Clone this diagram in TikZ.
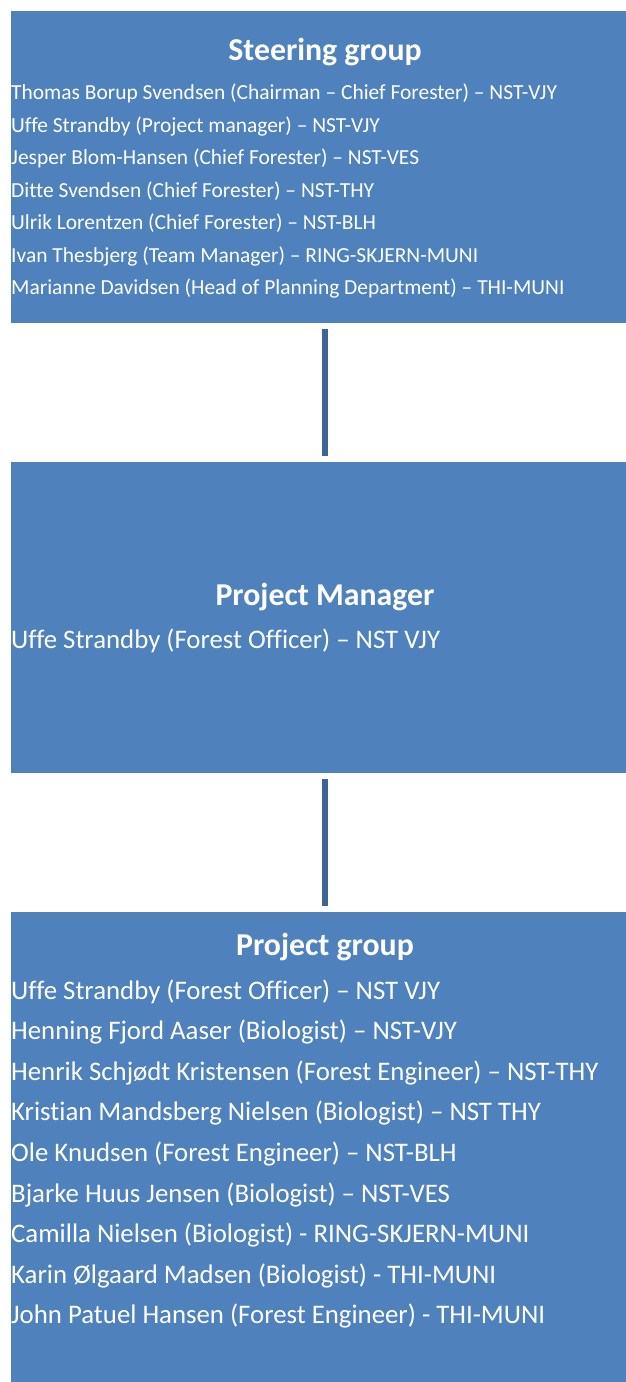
\documentclass[tikz,border=0pt]{standalone}
\usepackage{fontspec}
\setmainfont{Carlito}[Ligatures=NoCommon]
\definecolor{boxblue}{HTML}{4F81BD}
\definecolor{linkblue}{HTML}{3C6497}
\begin{document}
\begin{tikzpicture}[x=1pt,y=-1pt,
  panel/.style={fill=boxblue, draw=none, inner sep=0, outer sep=0, anchor=north west, minimum width=628pt},
  heading/.style={text=white, font=\bfseries\fontsize{31.8}{38}\selectfont, inner sep=0, anchor=base},
  member/.style={text=white, inner sep=0, anchor=base west},
  small/.style={font=\fontsize{21.45}{26}\selectfont},
  large/.style={font=\fontsize{26.8}{32}\selectfont},
  link/.style={draw=linkblue, line width=6pt, shorten <=6pt, shorten >=6pt}]
\clip (0,0) rectangle (626,1382);

% the three panels
\node[panel, minimum height=312pt] (steer) at (11,11) {};
\node[panel, minimum height=311pt] (mgr) at (11,462) {};
\node[panel, minimum height=480pt] (proj) at (11,912) {};

% connectors between the panels
\draw[link] (steer.south) -- (mgr.north);
\draw[link] (mgr.south) -- (proj.north);

% steering group
\node[heading] (steerhead) at (325,60) {Steering group};
\foreach \t [count=\i] in {
  {Thomas Borup Svendsen (Chairman – Chief Forester) – NST-VJY},
  {Uffe Strandby (Project manager) – NST-VJY},
  {Jesper Blom-Hansen (Chief Forester) – NST-VES},
  {Ditte Svendsen (Chief Forester) – NST-THY},
  {Ulrik Lorentzen (Chief Forester) – NST-BLH},
  {Ivan Thesbjerg (Team Manager) – RING-SKJERN-MUNI},
  {Marianne Davidsen (Head of Planning Department) – THI-MUNI}}
  \node[member, small] (steer\i) at (11,{99.5+32.5*(\i-1)}) {\t};

% project manager
\node[heading] (mgrhead) at (325,605) {Project Manager};
\node[member, large] (mgr1) at (11,648) {Uffe Strandby (Forest Officer) – NST VJY};

% project group
\node[heading] (projhead) at (325,955) {Project group};
\foreach \t [count=\i] in {
  {Uffe Strandby (Forest Officer) – NST VJY},
  {Henning Fjord Aaser (Biologist) – NST-VJY},
  {Henrik Schjødt Kristensen (Forest Engineer) – NST-THY},
  {Kristian Mandsberg Nielsen (Biologist) – NST THY},
  {Ole Knudsen (Forest Engineer) – NST-BLH},
  {Bjarke Huus Jensen (Biologist) – NST-VES},
  {Camilla Nielsen (Biologist) - RING-SKJERN-MUNI},
  {Karin Ølgaard Madsen (Biologist) - THI-MUNI},
  {John Patuel Hansen (Forest Engineer) - THI-MUNI}}
  \node[member, large] (proj\i) at (11,{999+40.6*(\i-1)}) {\t};
\end{tikzpicture}
\end{document}
